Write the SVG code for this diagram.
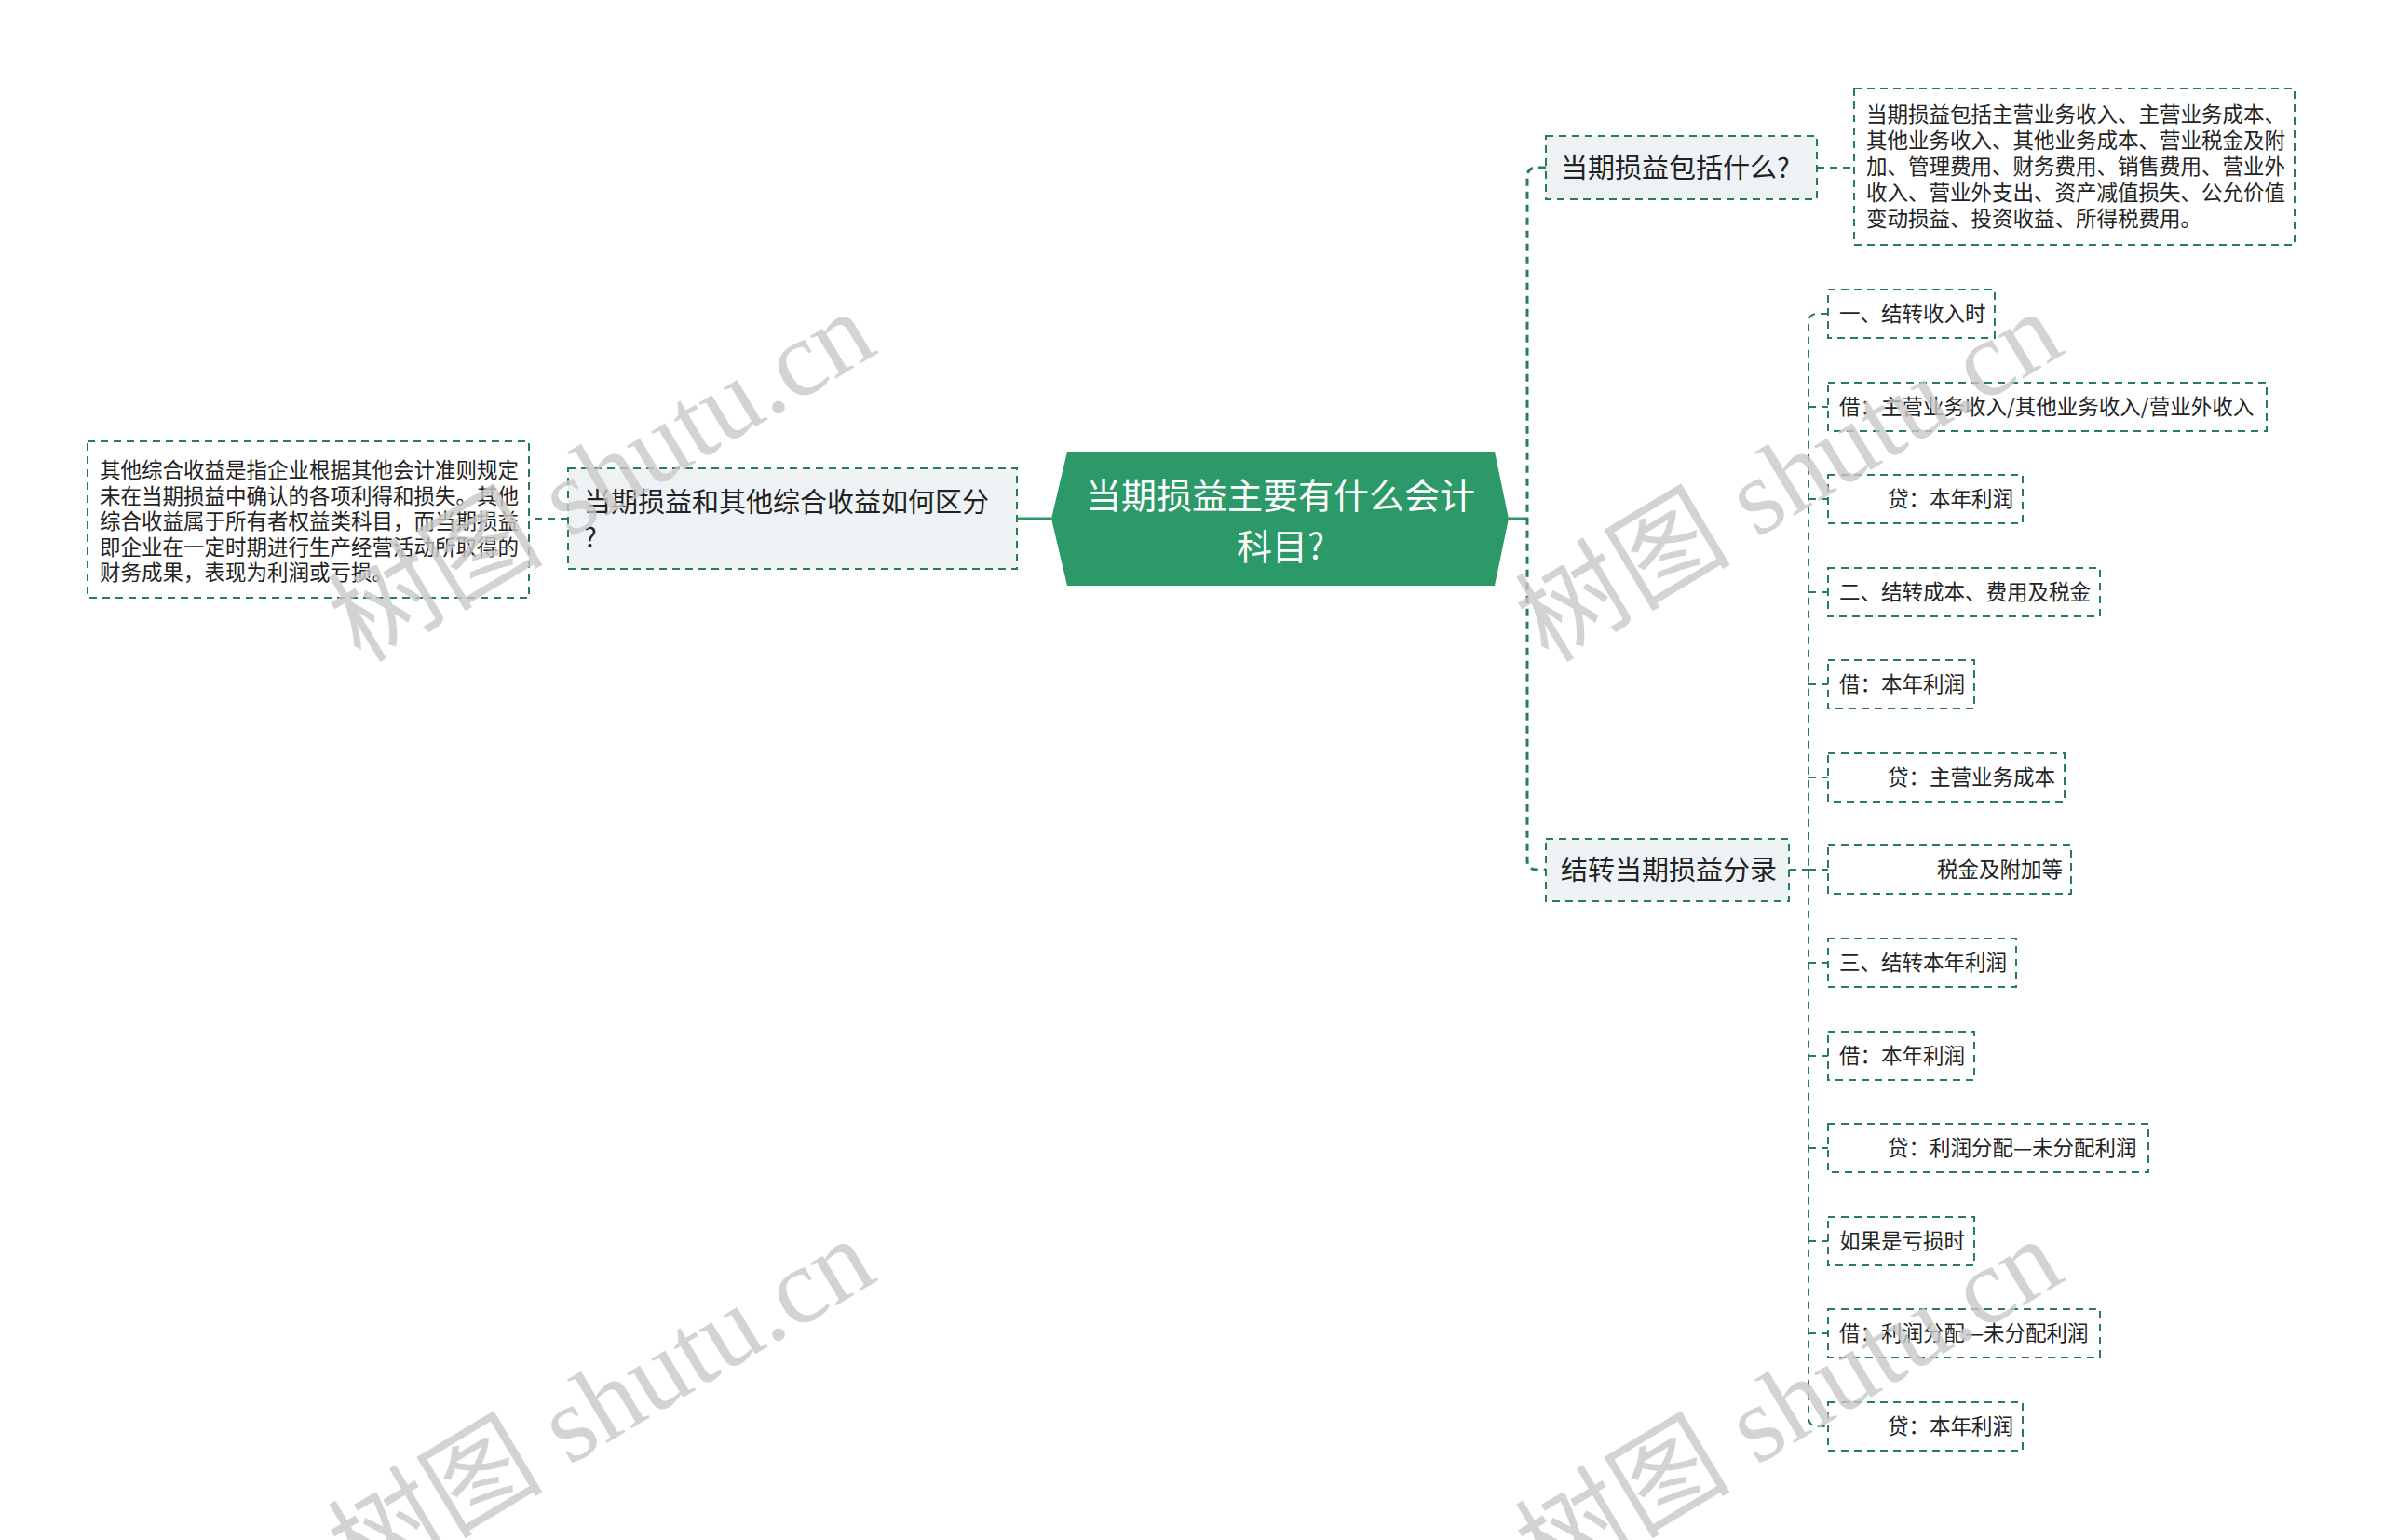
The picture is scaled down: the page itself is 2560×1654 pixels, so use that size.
<svg xmlns="http://www.w3.org/2000/svg" width="2560" height="1654" viewBox="0 0 2560 1654">
<style>
.t{font-family:"Noto Sans CJK SC","Noto Sans",sans-serif;fill:#222}
.c{font-size:22.5px}
.l1{font-size:29px}
.box{fill:#fff;stroke:#277d56;stroke-width:2;stroke-dasharray:8 6}
.l1box{fill:#eef2f5;stroke:#277d56;stroke-width:2;stroke-dasharray:8 6}
.dash{fill:none;stroke:#277d56;stroke-width:2;stroke-dasharray:8 6}
.spine{fill:none;stroke:#277d56;stroke-width:3;stroke-dasharray:8 6}
.solid{fill:none;stroke:#2b9968;stroke-width:3}
.wm{font-family:"Liberation Serif","Noto Sans CJK SC",serif;font-size:116px;fill:#c8c8c8;fill-opacity:0.8}
</style>
<rect width="2560" height="1654" fill="#fff"/>
<g id="connectors">
<path class="solid" d="M1129 557 H1092"/>
<path class="dash" d="M610 557 H568"/>
<path class="solid" d="M1620 557 H1640"/>
<path class="spine" d="M1660 180 H1650 Q1640 180 1640 190 V924 Q1640 934 1650 934 H1660"/>
<path class="dash" d="M1951 180 H1991"/>
<path class="dash" d="M1921 934 H1942"/>
<path class="dash" d="M1963 337 H1952 Q1942 337 1942 347 V1522 Q1942 1532 1952 1532 H1963"/>
<path class="dash" d="M1942 437 H1963 M1942 536 H1963 M1942 636 H1963 M1942 735 H1963 M1942 835 H1963 M1942 934 H1963 M1942 1034 H1963 M1942 1134 H1963 M1942 1233 H1963 M1942 1333 H1963 M1942 1432 H1963"/>
</g>
<g id="root">
<polygon points="1129,557 1146,485 1605,485 1620,557 1605,629 1146,629" fill="#2b9968"/>
<text class="t" x="1375" y="546" text-anchor="middle" font-size="38" style="fill:#fff">当期损益主要有什么会计</text>
<text class="t" x="1375" y="601" text-anchor="middle" font-size="38" style="fill:#fff">科目?</text>
</g>
<g id="n-left">
<rect class="l1box" x="610" y="503" width="482" height="108"/>
<text class="t l1" x="627" y="550">当期损益和其他综合收益如何区分</text>
<text class="t l1" x="627" y="588">?</text>
</g>
<g id="n-left-detail">
<rect class="box" x="94" y="474" width="474" height="168"/>
<text class="t c" x="107" y="513">其他综合收益是指企业根据其他会计准则规定</text>
<text class="t c" x="107" y="540.5">未在当期损益中确认的各项利得和损失。其他</text>
<text class="t c" x="107" y="568">综合收益属于所有者权益类科目，而当期损益</text>
<text class="t c" x="107" y="595.5">即企业在一定时期进行生产经营活动所取得的</text>
<text class="t c" x="107" y="623">财务成果，表现为利润或亏损。</text>
</g>
<g id="n-r1">
<rect class="l1box" x="1660" y="146" width="291" height="68"/>
<text class="t l1" x="1676" y="190.5">当期损益包括什么?</text>
</g>
<g id="n-r1-detail">
<rect class="box" x="1991" y="95" width="473" height="168"/>
<text class="t c" x="2004" y="131">当期损益包括主营业务收入、主营业务成本、</text>
<text class="t c" x="2004" y="159">其他业务收入、其他业务成本、营业税金及附</text>
<text class="t c" x="2004" y="187">加、管理费用、财务费用、销售费用、营业外</text>
<text class="t c" x="2004" y="215">收入、营业外支出、资产减值损失、公允价值</text>
<text class="t c" x="2004" y="243">变动损益、投资收益、所得税费用。</text>
</g>
<g id="n-r2">
<rect class="l1box" x="1660" y="901" width="261" height="67"/>
<text class="t l1" x="1676" y="944.5">结转当期损益分录</text>
</g>
<g id="c1"><rect class="box" x="1963" y="311" width="179" height="52"/><text class="t c" x="1975" y="345">一、结转收入时</text></g>
<g id="c2"><rect class="box" x="1963" y="411" width="471" height="52"/><text class="t c" x="1975" y="445">借：主营业务收入/其他业务收入/营业外收入</text></g>
<g id="c3"><rect class="box" x="1963" y="510" width="209" height="52"/><text class="t c" x="2027" y="544">贷：本年利润</text></g>
<g id="c4"><rect class="box" x="1963" y="610" width="292" height="52"/><text class="t c" x="1975" y="644">二、结转成本、费用及税金</text></g>
<g id="c5"><rect class="box" x="1963" y="709" width="157" height="52"/><text class="t c" x="1975" y="743">借：本年利润</text></g>
<g id="c6"><rect class="box" x="1963" y="809" width="254" height="52"/><text class="t c" x="2027" y="843">贷：主营业务成本</text></g>
<g id="c7"><rect class="box" x="1963" y="908" width="261" height="52"/><text class="t c" x="2080" y="942">税金及附加等</text></g>
<g id="c8"><rect class="box" x="1963" y="1008" width="202" height="52"/><text class="t c" x="1975" y="1042">三、结转本年利润</text></g>
<g id="c9"><rect class="box" x="1963" y="1108" width="157" height="52"/><text class="t c" x="1975" y="1142">借：本年利润</text></g>
<g id="c10"><rect class="box" x="1963" y="1207" width="344" height="52"/><text class="t c" x="2027" y="1241">贷：利润分配—未分配利润</text></g>
<g id="c11"><rect class="box" x="1963" y="1307" width="157" height="52"/><text class="t c" x="1975" y="1341">如果是亏损时</text></g>
<g id="c12"><rect class="box" x="1963" y="1406" width="292" height="52"/><text class="t c" x="1975" y="1440">借：利润分配—未分配利润</text></g>
<g id="c13"><rect class="box" x="1963" y="1506" width="209" height="52"/><text class="t c" x="2027" y="1540">贷：本年利润</text></g>
<g id="watermark">
<text class="wm" text-anchor="middle" dominant-baseline="central" transform="translate(646 512) rotate(-31)">树图 shutu.cn</text>
<text class="wm" text-anchor="middle" dominant-baseline="central" transform="translate(1921 512) rotate(-31)">树图 shutu.cn</text>
<text class="wm" text-anchor="middle" dominant-baseline="central" transform="translate(646 1508) rotate(-31)">树图 shutu.cn</text>
<text class="wm" text-anchor="middle" dominant-baseline="central" transform="translate(1921 1508) rotate(-31)">树图 shutu.cn</text>
</g>
</svg>
